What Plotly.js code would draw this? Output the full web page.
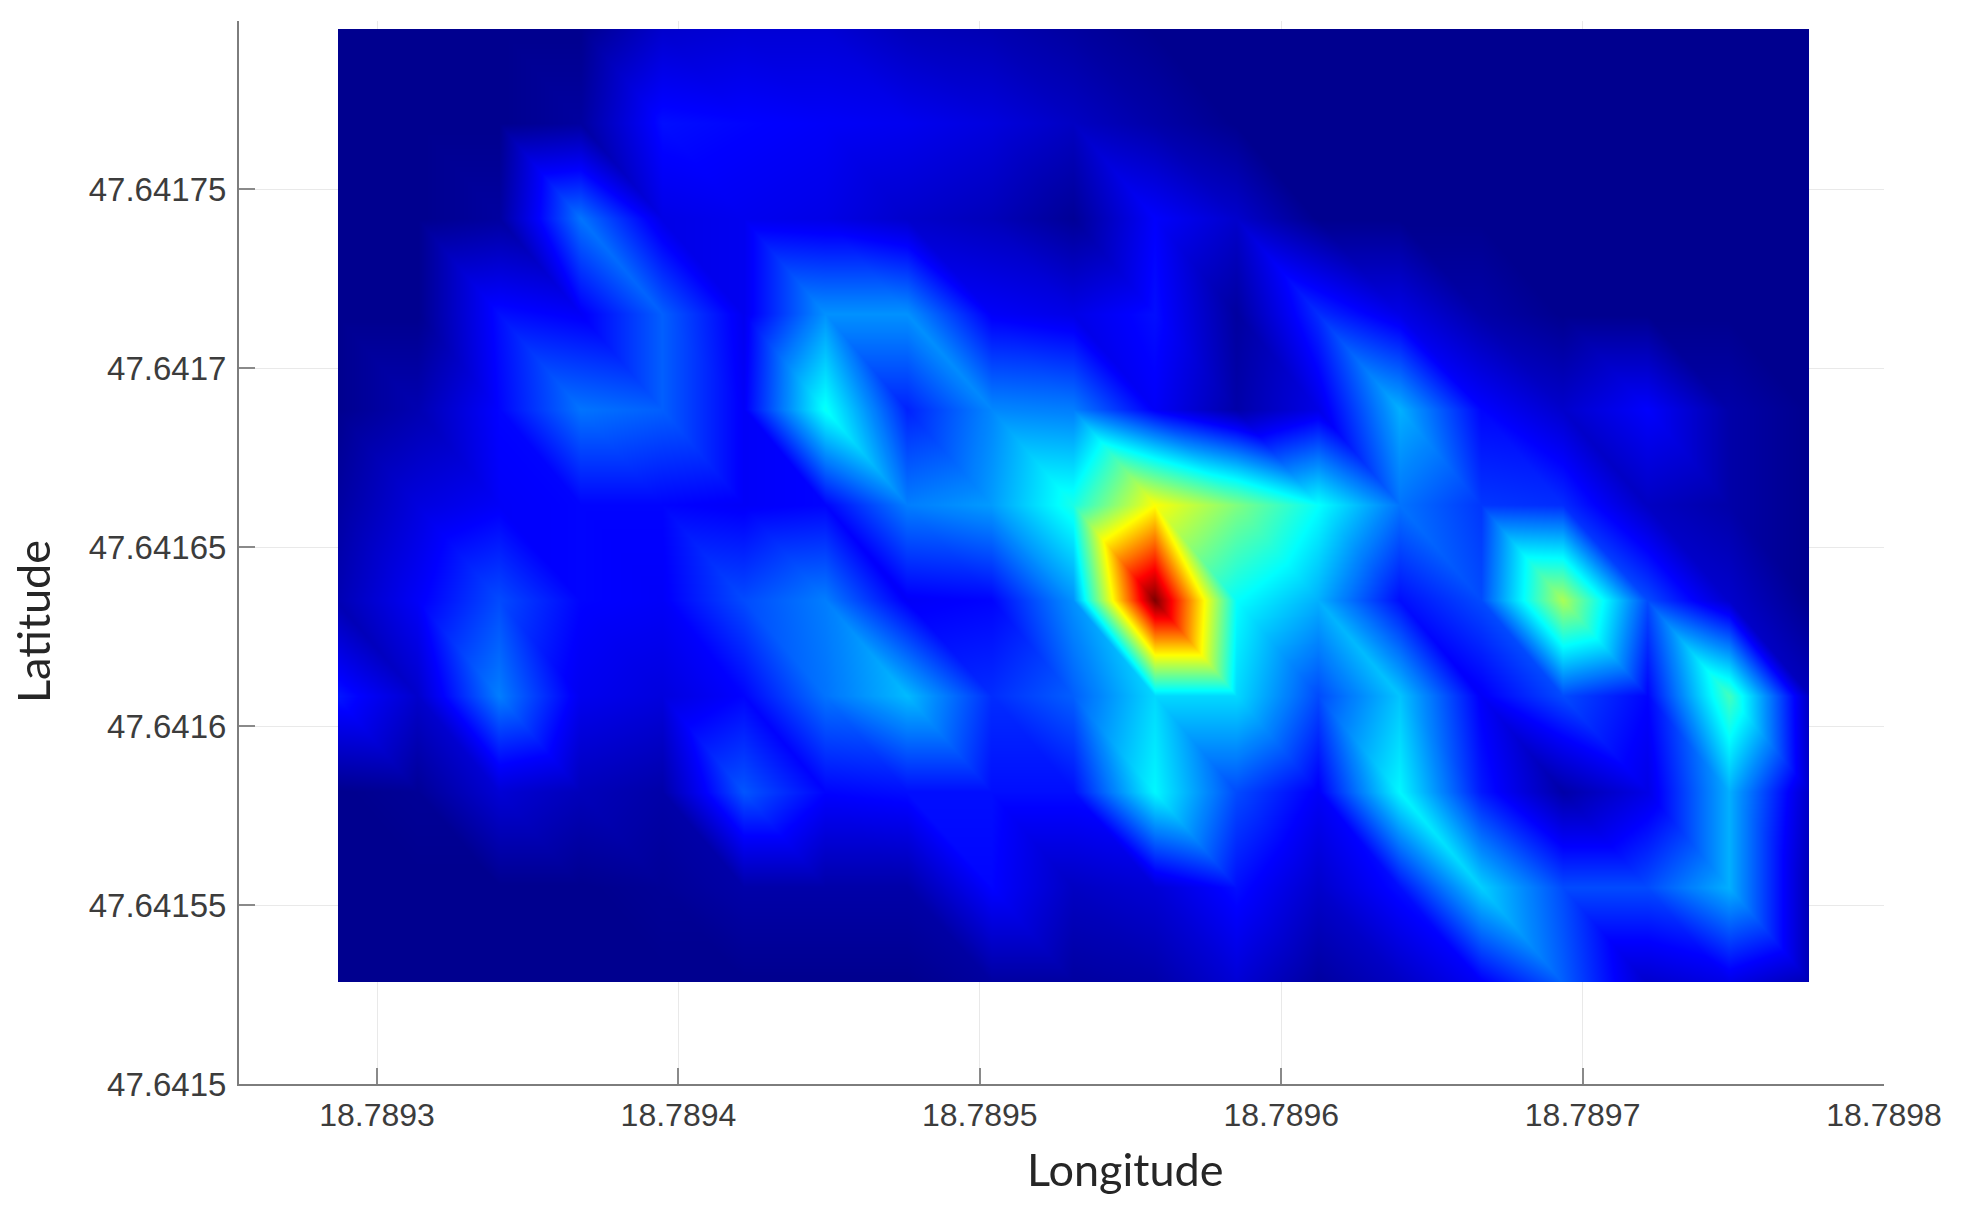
<!DOCTYPE html>
<html>
<head>
<meta charset="utf-8">
<script src="https://cdn.plot.ly/plotly-3.0.1.min.js"></script>
<style>html,body{margin:0;padding:0;background:#fff}#chart{width:1964px;height:1208px}</style>
</head>
<body>
<div id="chart"></div>
<script>
// Longitude of each grid column
const longitudes = [18.789287, 18.789314, 18.789341, 18.789368, 18.789395, 18.789422, 18.789449, 18.789476, 18.789504, 18.789531,
                    18.789558, 18.789585, 18.789612, 18.789639, 18.789666, 18.789693, 18.789721, 18.789748, 18.789775];
// Latitude of each grid row, top to bottom
const latitudes = [47.6417947, 47.6417681, 47.6417415, 47.6417149, 47.6416883, 47.6416617, 47.6416351, 47.6416085, 47.6415817, 47.6415551, 47.6415285];
// Normalised intensity, one row per latitude
const intensity = [
 [0,   0,   0,   0,   .07, .08, .08, .05, .04, .02, 0,   0,   0,   0,   0,   0,   0,   0,   0],
 [0,   0,   0,   .02, .14, .13, .12, .11, .09, .06, .03, 0,   0,   0,   0,   0,   0,   0,   0],
 [0,   0,   .02, .24, .10, .11, .10, .07, .05, .01, .125,.07, 0,   0,   0,   0,   0,   0,   0],
 [0,   0,   .14, .12, .22, .11, .27, .27, .12, .10, .14, .02, .17, .10, .03, 0,   0,   0,   0],
 [0,   .04, .13, .24, .22, .12, .385,.16, .26, .25, .12, .03, .10, .30, .13, .07, .125,.03, 0],
 [.02, .09, .12, .13, .13, .12, .13, .25, .28, .40, .62, .50, .38, .24, .18, .17, .06, .03, 0],
 [.04, .12, .20, .13, .12, .20, .25, .12, .13, .27, 1,   .38, .30, .14, .20, .54, .20, .07, 0],
 [.15, .07, .25, .11, .09, .13, .24, .31, .17, .22, .34, .34, .20, .32, .12, .20, .13, .44, .05],
 [0,   .01, .08, .05, .03, .21, .13, .14, .14, .14, .37, .20, .12, .37, .15, .03, .10, .30, .06],
 [0,   0,   0,   0,   .01, .03, .03, .03, .13, .06, .08, .14, .07, .14, .33, .20, .20, .30, .04],
 [0,   0,   0,   0,   0,   0,   0,   0,   .02, .02, .03, .08, .02, .06, .12, .22, .07, .10, .04]
];
const jetScale = [[0,'#00008f'],[0.125,'#0000ff'],[0.375,'#00ffff'],[0.625,'#ffff00'],[0.875,'#ff0000'],[1,'#800000']];
const xTickValues = [18.7893, 18.7894, 18.7895, 18.7896, 18.7897, 18.7898];
const xTickLabels = ['18.7893','18.7894','18.7895','18.7896','18.7897','18.7898'];
const yTickValues = [47.6415, 47.64155, 47.6416, 47.64165, 47.6417, 47.64175];
const yTickLabels = ['47.6415','47.64155','47.6416','47.64165','47.6417','47.64175'];

const W = 1964, H = 1208;
const plotBox = {l: 239, r: 1884, t: 21, b: 1084};
const xRange = [18.7892542, 18.7898];
const yRange = [47.6415, 47.641797];
const pxW = plotBox.r - plotBox.l, pxH = plotBox.b - plotBox.t;
const xFrac = v => (v - xRange[0]) / (xRange[1] - xRange[0]);
const yFrac = v => (v - yRange[0]) / (yRange[1] - yRange[0]);
const lonFirst = longitudes[0], lonLast = longitudes[longitudes.length - 1];
const latTop = latitudes[0], latBottom = latitudes[latitudes.length - 1];
const tickFontX = {family: '"Liberation Sans", Arial, sans-serif', size: 32, color: '#3c3c3c'};
const tickFontY = {family: '"Liberation Sans", Arial, sans-serif', size: 33, color: '#3c3c3c'};
const titleFont = {family: 'Lato, sans-serif', size: 45, color: '#262626'};

// Triangulated mesh over the grid, each cell split along its NW-SE diagonal (offsets keep float precision)
const meshX = [], meshY = [], meshZ = [], meshI = [], meshJ = [], meshK = [], meshV = [];
latitudes.forEach((lat, r) => longitudes.forEach((lon, c) => {
  meshX.push((lon - lonFirst) * 1e5); meshY.push((lat - latBottom) * 1e5); meshZ.push(0); meshV.push(intensity[r][c]);
}));
const nc = longitudes.length;
for (let r = 0; r < latitudes.length - 1; r++) for (let c = 0; c < nc - 1; c++) {
  const tl = r * nc + c, tr = tl + 1, bl = tl + nc, br = bl + 1;
  meshI.push(tl, tl); meshJ.push(br, tr); meshK.push(bl, br);
}
const traces = [
  {type: 'scatter', mode: 'markers', x: [], y: [], hoverinfo: 'skip', showlegend: false},
  {type: 'mesh3d', x: meshX, y: meshY, z: meshZ, i: meshI, j: meshJ, k: meshK, intensity: meshV,
   colorscale: jetScale, cmin: 0, cmax: 1, showscale: false, flatshading: false, hoverinfo: 'skip',
   lighting: {ambient: 1, diffuse: 0, specular: 0, roughness: 1, fresnel: 0}, scene: 'scene'}
];
const baseAxis = {
  tickmode: 'array', ticks: 'inside', ticklen: 16, tickwidth: 2, tickcolor: '#8a8a8a',
  showgrid: true, gridcolor: '#e9e9e9', gridwidth: 1, zeroline: false,
  showline: true, linecolor: '#7d7d7d', linewidth: 2
};
const hidden3d = {visible: false, showgrid: false, zeroline: false, showspikes: false, showbackground: false};
const aspect = ((xFrac(lonLast) - xFrac(lonFirst)) * pxW) / ((yFrac(latTop) - yFrac(latBottom)) * pxH);
const zoomFactor = 2.005;
const boxFactor = 3;
const spanX = (lonLast - lonFirst) * 1e5, spanY = (latTop - latBottom) * 1e5;
const layout = {
  width: W, height: H, paper_bgcolor: '#ffffff', plot_bgcolor: '#ffffff', showlegend: false,
  margin: {l: plotBox.l, r: W - plotBox.r, t: plotBox.t, b: H - plotBox.b, pad: 0},
  xaxis: Object.assign({}, baseAxis, {range: xRange, tickvals: xTickValues, ticktext: xTickLabels, ticklabelstandoff: 2, tickfont: tickFontX}),
  yaxis: Object.assign({}, baseAxis, {range: yRange, tickvals: yTickValues, ticktext: yTickLabels, ticklabelstandoff: 4, tickfont: tickFontY}),
  scene: {
    domain: {
      x: [xFrac(lonFirst), xFrac(lonLast)],
      y: [yFrac(latBottom), yFrac(latTop)]
    },
    bgcolor: 'rgba(0,0,0,0)',
    xaxis: Object.assign({}, hidden3d, {range: [-spanX, 2 * spanX]}),
    yaxis: Object.assign({}, hidden3d, {range: [-spanY, 2 * spanY]}),
    zaxis: Object.assign({}, hidden3d, {range: [-1, 1]}),
    aspectmode: 'manual',
    aspectratio: {x: aspect * zoomFactor * boxFactor, y: zoomFactor * boxFactor, z: 0.1},
    camera: {eye: {x: 0, y: 0, z: 1}, center: {x: 0, y: 0, z: 0}, up: {x: 0, y: 1, z: 0}, projection: {type: 'orthographic'}}
  },
  annotations: [
    {text: 'Longitude', xref: 'paper', yref: 'paper', x: (1125 - plotBox.l) / pxW, y: (plotBox.b - 1169) / pxH,
     xanchor: 'center', yanchor: 'middle', showarrow: false, font: titleFont},
    {text: 'Latitude', xref: 'paper', yref: 'paper', x: (33 - plotBox.l) / pxW, y: (plotBox.b - 622) / pxH,
     xanchor: 'center', yanchor: 'middle', showarrow: false, textangle: -90, font: titleFont}
  ]
};
Plotly.newPlot('chart', traces, layout, {displayModeBar: false});
</script>
</body>
</html>
